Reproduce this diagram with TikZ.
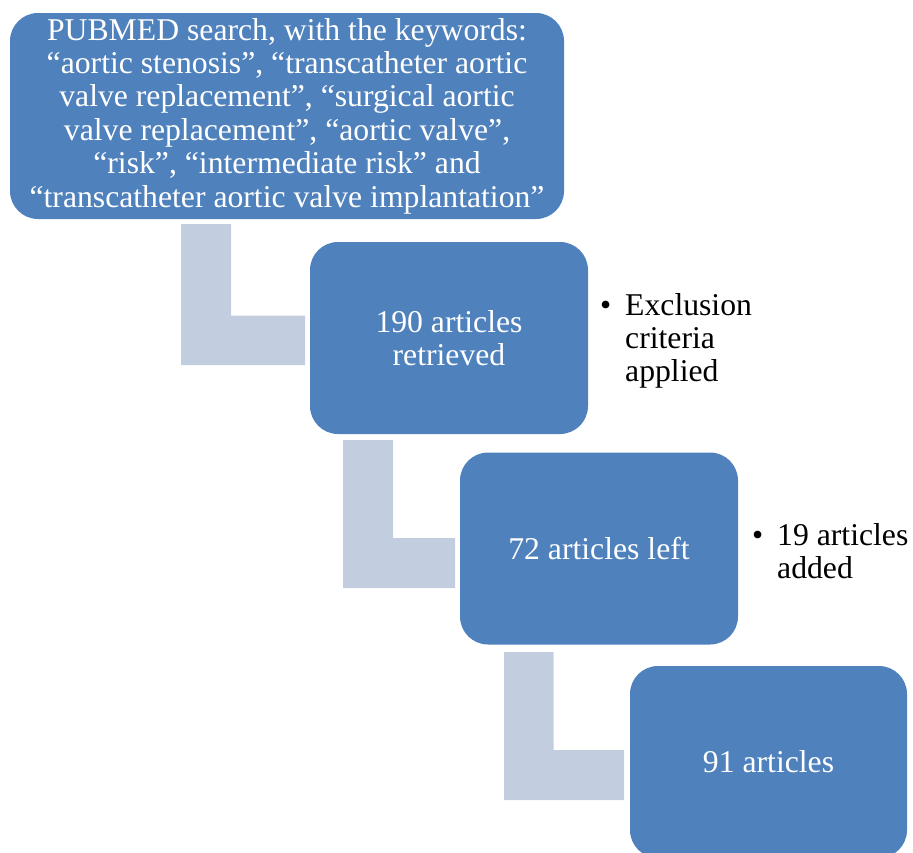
\documentclass[tikz,border=0pt]{standalone}
\usepackage{fontspec}
\setmainfont{Liberation Serif}
\definecolor{boxblue}{RGB}{79,129,189}
\definecolor{lbar}{RGB}{195,205,224}
\begin{document}
\begin{tikzpicture}[x=1pt,y=-1pt,
  stage/.style={draw=none, fill=boxblue, rounded corners=28pt, text=white,
    align=center, inner sep=0pt, font=\fontsize{31.7}{33.4}\selectfont},
  note/.style={inner sep=0pt, align=left, font=\fontsize{31.7}{33.2}\selectfont},
  ell/.style={fill=lbar, draw=none}]
\useasboundingbox (0,0) rectangle (913,852);
\clip (0,0) rectangle (913,852);
% stages
\node[stage, minimum width=554pt, minimum height=206pt] (s1) at (287,116)
  {PUBMED search, with the keywords:\\
   ``aortic stenosis'', ``transcatheter aortic\\
   valve replacement'', ``surgical aortic\\
   valve replacement'', ``aortic valve'',\\
   ``risk'', ``intermediate risk'' and\\
   ``transcatheter aortic valve implantation''};
\node[stage, minimum width=278pt, minimum height=192pt] (s2) at (449,338)
  {190 articles\\retrieved};
\node[stage, minimum width=278pt, minimum height=192pt] (s3) at (599,548.5)
  {72 articles left};
\node[stage, minimum width=277pt, minimum height=192pt] (s4) at (768.5,762)
  {91 articles};
% L-shaped connectors
\fill[ell] (181,224) -- (231,224) -- (231,315.5) -- (305,315.5) -- (305,365) -- (181,365) -- cycle;
\fill[ell] (343,440) -- (393,440) -- (393,538) -- (455,538) -- (455,588) -- (343,588) -- cycle;
\fill[ell] (504,652) -- (553.5,652) -- (553.5,750) -- (624,750) -- (624,800) -- (504,800) -- cycle;
% notes (anchor base = baseline of last line)
\node[note, anchor=base west] (b1) at (600,315) {\textbullet};
\node[note, anchor=base west] (n1) at (625,381.4) {Exclusion\\criteria\\applied};
\node[note, anchor=base west] (b2) at (752,545) {\textbullet};
\node[note, anchor=base west] (n2) at (777,578.2) {19 articles\\added};
\end{tikzpicture}
\end{document}
